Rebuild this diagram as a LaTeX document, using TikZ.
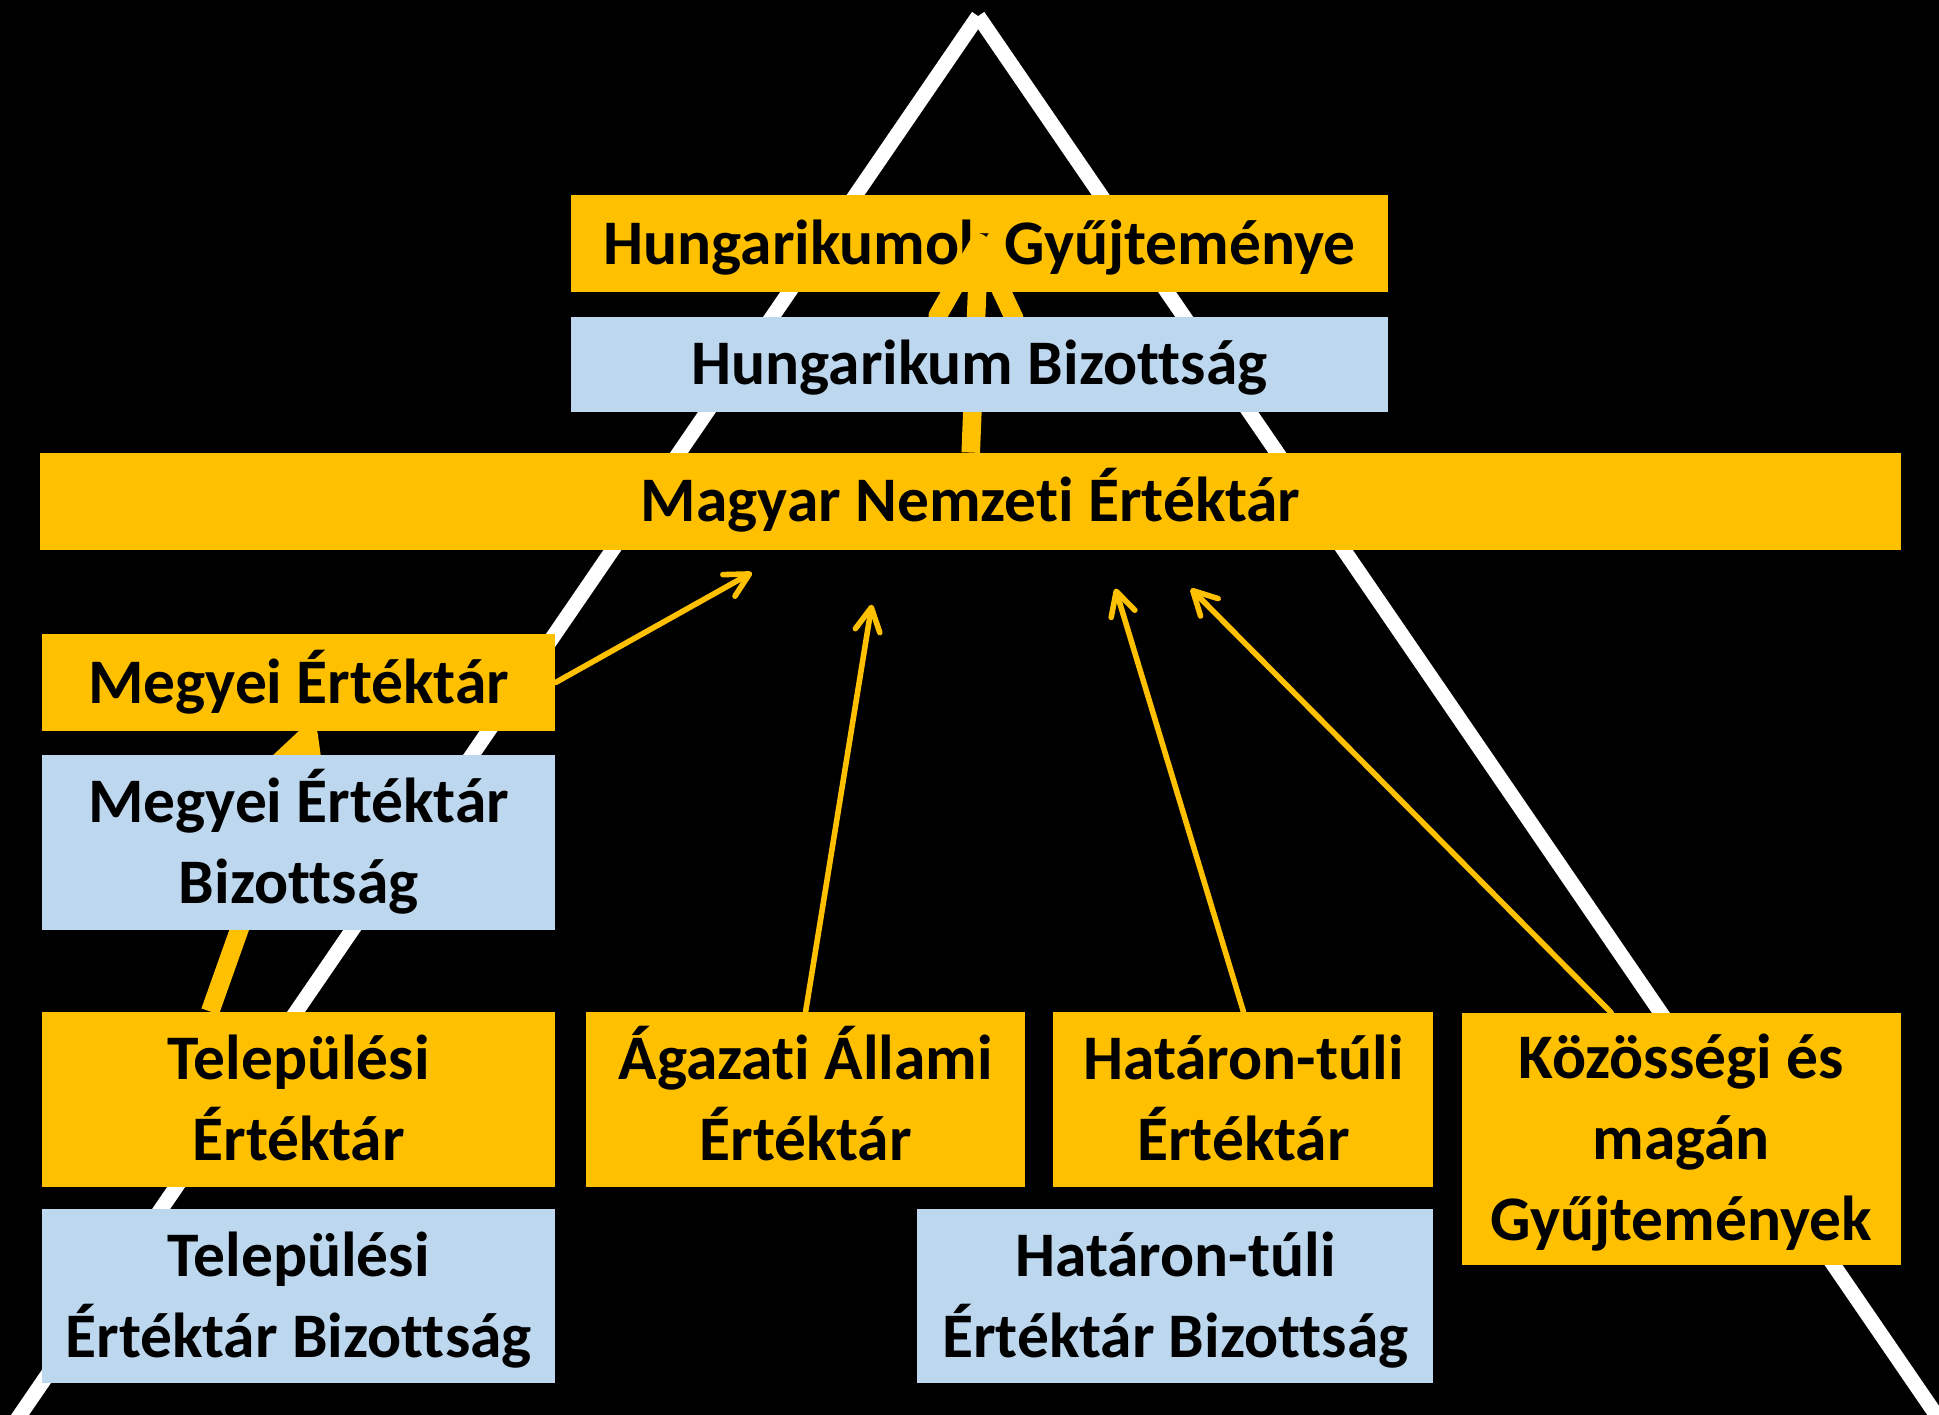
\documentclass[tikz,border=0pt]{standalone}
\usepackage{fontspec}
\setmainfont{Carlito}[Ligatures={NoCommon}]
\usetikzlibrary{arrows.meta}
\definecolor{boxgold}{HTML}{FFC000}
\definecolor{boxblue}{HTML}{BDD7EE}
% one text line: fixed height and depth so every line box is equal
\newcommand{\lnstrut}{\rule[-0.143cm]{0pt}{0.62cm}}
\pgfdeclarelayer{legs}
\pgfdeclarelayer{lower}
\pgfdeclarelayer{links}
\pgfdeclarelayer{front}
\pgfsetlayers{legs,lower,links,main,front}

\begin{document}
\begin{tikzpicture}[x=0.01cm, y=-0.01cm,
  box/.style={inner sep=0pt, outer sep=0pt, align=center, text=black,
    font=\fontsize{14.6pt}{17.64pt}\selectfont\bfseries},
  goldbox/.style={box, fill=boxgold},
  bluebox/.style={box, fill=boxblue},
  leg/.style={white, line width=0.12cm, line cap=butt},
  bigarrow/.style={boxgold, line width=0.15cm,
    -{Straight Barb[length=0.6cm, width=0.62cm, round]}},
  smallarrow/.style={boxgold, line width=0.045cm, line cap=round,
    -{Straight Barb[length=0.19cm, width=0.2cm, round]}},
]

% background and the two legs of the pyramid
\begin{pgfonlayer}{legs}
  \fill[black] (0,0) rectangle (1568,1144);
  \begin{scope}
    \clip (0,0) rectangle (1568,1144);
    \coordinate (apex) at (791,13);
    \coordinate (footl) at (-22,1200);
    \coordinate (footr) at (1604,1200);
    \draw[leg] (apex) -- (footl);
    \draw[leg] (apex) -- (footr);
  \end{scope}
\end{pgfonlayer}
\useasboundingbox (0,0) rectangle (1568,1144);

% top of the pyramid
\begin{pgfonlayer}{lower}
  \node[goldbox, minimum width=6.6cm, minimum height=0.78cm] (hg) at (792,197)
    {\lnstrut Hungarikumok Gyűjteménye};
\end{pgfonlayer}
\node[bluebox, minimum width=6.6cm, minimum height=0.77cm] (hb) at (792,294.5)
  {\lnstrut Hungarikum Bizottság};
\node[goldbox, minimum width=15.04cm, minimum height=0.785cm] (mne) at (785,405.25)
  {\lnstrut Magyar Nemzeti Értéktár};

% county level
\node[goldbox, minimum width=4.15cm, minimum height=0.78cm] (me) at (241.5,552)
  {\lnstrut Megyei Értéktár};
\node[bluebox, minimum width=4.15cm, minimum height=1.415cm] (meb) at (241.5,681.25)
  {\lnstrut Megyei Értéktár\\\lnstrut Bizottság};

% bottom row
\node[goldbox, minimum width=4.15cm, minimum height=1.415cm] (te) at (241.5,888.75)
  {\lnstrut Települési\\\lnstrut Értéktár};
\node[bluebox, minimum width=4.15cm, minimum height=1.405cm] (teb) at (241.5,1048.25)
  {\lnstrut Települési\\\lnstrut Értéktár Bizottság};
\node[goldbox, minimum width=3.55cm, minimum height=1.415cm] (aae) at (651.5,888.75)
  {\lnstrut Ágazati Állami\\\lnstrut Értéktár};
\node[goldbox, minimum width=3.07cm, minimum height=1.415cm] (hte) at (1005.5,888.75)
  {\lnstrut Határon-túli\\\lnstrut Értéktár};
\node[bluebox, minimum width=4.17cm, minimum height=1.405cm] (hteb) at (950.5,1048.25)
  {\lnstrut Határon-túli\\\lnstrut Értéktár Bizottság};
\node[goldbox, minimum width=3.55cm, minimum height=2.04cm] (kmgy) at (1359.5,921)
  {\lnstrut Közösségi és\\\lnstrut magán\\\lnstrut Gyűjtemények};

% arrow tips
\coordinate (hgtip) at (792,189);
\coordinate (metip) at (252,587);
\coordinate (tipa) at (608,463);
\coordinate (tipb) at (705,489);
\coordinate (tipc) at (902,476);
\coordinate (tipd) at (963,476);

% thick links, partly hidden behind the committee boxes
\begin{pgfonlayer}{links}
  \draw[bigarrow] (mne.north) -- (hgtip);
  \draw[bigarrow] ([xshift=-0.715cm]te.north) -- (metip);
\end{pgfonlayer}

% thin links into the national collection
\begin{pgfonlayer}{front}
  \draw[smallarrow] (me.east) -- (tipa);
  \draw[smallarrow] (aae.north) -- (tipb);
  \draw[smallarrow] (hte.north) -- (tipc);
  \draw[smallarrow] ([xshift=-0.565cm]kmgy.north) -- (tipd);
\end{pgfonlayer}
\end{tikzpicture}
\end{document}
